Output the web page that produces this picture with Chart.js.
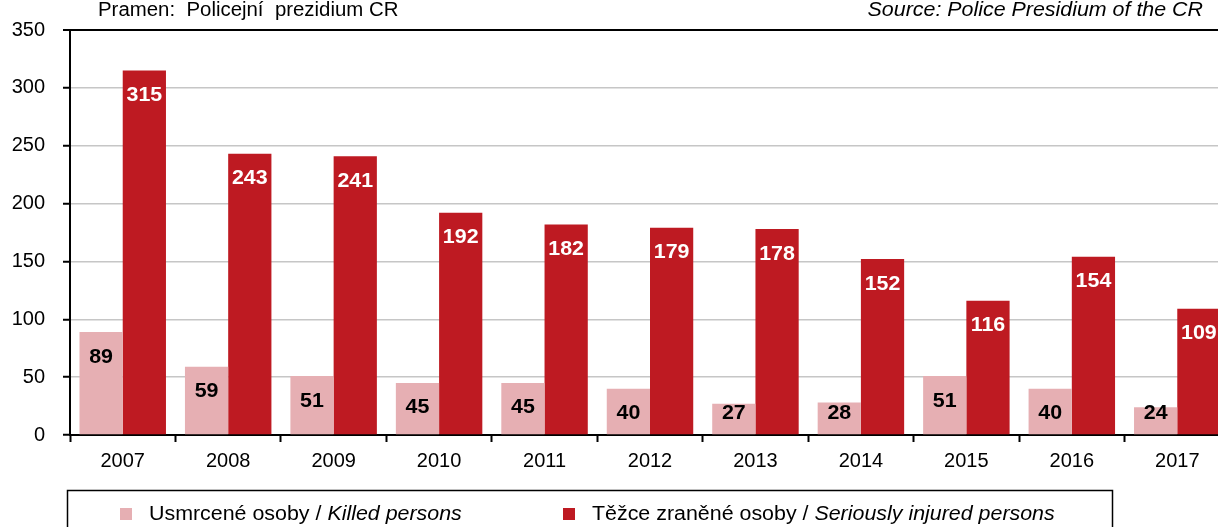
<!DOCTYPE html>
<html>
<head>
<meta charset="utf-8">
<script src="https://cdn.jsdelivr.net/npm/chart.js@4.4.1/dist/chart.umd.min.js"></script>
<style>
  html, body { margin: 0; padding: 0; background: #fff; overflow: hidden; }
  #wrap { position: relative; width: 1230px; height: 527px; }
</style>
</head>
<body>
<div id="wrap"><canvas id="chart"></canvas></div>
<script>
const years = ['2007', '2008', '2009', '2010', '2011', '2012', '2013', '2014', '2015', '2016', '2017'];
const killed = [89, 59, 51, 45, 45, 40, 27, 28, 51, 40, 24];
const injured = [315, 243, 241, 192, 182, 179, 178, 152, 116, 154, 109];
const killedLabel = ['Usmrcené osoby / ', 'Killed persons'];
const injuredLabel = ['Těžce zraněné osoby / ', 'Seriously injured persons'];
const sourceCz = 'Pramen:  Policejní  prezidium CR';
const sourceEn = 'Source: Police Presidium of the CR';

const FONT = '"Liberation Sans", Arial, sans-serif';
const LIGHT = '#e6afb3';
const DARK = '#be1a22';

// draw text stretched horizontally by `widen`; returns drawn width
function wideText(ctx, text, x, y, align, widen = 1.07) {
  const w = ctx.measureText(text).width * widen;
  let left = x;
  if (align === 'center') left = x - w / 2;
  else if (align === 'right') left = x - w;
  ctx.save();
  ctx.textAlign = 'left';
  ctx.translate(left, y);
  ctx.scale(widen, 1);
  ctx.fillText(text, 0, 0);
  ctx.restore();
  return w;
}

// value labels inside the top of each bar, kept above the axis for short bars
const barLabels = {
  id: 'barLabels',
  afterDatasetsDraw(chart) {
    const ctx = chart.ctx;
    const base = chart.scales.y.getPixelForValue(0);
    ctx.save();
    ctx.font = 'bold 20px ' + FONT;
    ctx.textBaseline = 'middle';
    chart.data.datasets.forEach((ds, i) => {
      chart.getDatasetMeta(i).data.forEach((bar, j) => {
        const y = Math.min(bar.y + 25, base - 22);
        ctx.fillStyle = i === 0 ? '#000' : '#fff';
        wideText(ctx, String(ds.data[j]), bar.x, y, 'center');
      });
    });
    ctx.restore();
  }
};

// source lines above the plot and the boxed legend below it
const frame = {
  id: 'frame',
  afterDraw(chart) {
    const ctx = chart.ctx;
    ctx.save();
    ctx.fillStyle = '#000';
    ctx.textBaseline = 'alphabetic';
    ctx.font = '20px ' + FONT;
    wideText(ctx, sourceCz, 98, 16, 'left', 1.02);
    ctx.font = 'italic 20px ' + FONT;
    wideText(ctx, sourceEn, 1203, 16, 'right');

    ctx.strokeStyle = '#000';
    ctx.lineWidth = 1.5;
    ctx.strokeRect(67.5, 490.5, 1045, 60);

    const items = [
      { x: 120, color: chart.data.datasets[0].backgroundColor, parts: killedLabel },
      { x: 563, color: chart.data.datasets[1].backgroundColor, parts: injuredLabel }
    ];
    items.forEach(it => {
      ctx.fillStyle = it.color;
      ctx.fillRect(it.x, 508, 12, 12);
      ctx.fillStyle = '#000';
      let x = it.x + 29;
      ctx.font = '20px ' + FONT;
      x += wideText(ctx, it.parts[0], x, 520, 'left');
      ctx.font = 'italic 20px ' + FONT;
      wideText(ctx, it.parts[1], x, 520, 'left');
    });
    ctx.restore();
  }
};

new Chart(document.getElementById('chart'), {
  type: 'bar',
  data: {
    labels: years,
    datasets: [
      { label: killedLabel.join(''), data: killed, backgroundColor: LIGHT },
      { label: injuredLabel.join(''), data: injured, backgroundColor: DARK }
    ]
  },
  options: {
    responsive: true,
    maintainAspectRatio: false,
    animation: false,
    layout: { padding: { top: 26, right: 0, bottom: 0, left: 0 } },
    datasets: { bar: { categoryPercentage: 0.82, barPercentage: 1.0 } },
    plugins: { legend: { display: false }, tooltip: { enabled: false } },
    scales: {
      x: {
        afterFit: s => { s.height = 92; },
        grid: { offset: true, drawOnChartArea: false, tickLength: 7, tickColor: '#000', tickWidth: 2 },
        border: { color: '#000', width: 2 },
        ticks: { color: '#000', font: { family: FONT, size: 20 }, padding: 7, maxRotation: 0 }
      },
      y: {
        min: 0,
        max: 350,
        afterFit: s => { s.width = 70; },
        grid: {
          color: c => c.tick && c.tick.value === 350 ? '#000' : '#c6c6c6',
          lineWidth: c => c.tick && c.tick.value === 350 ? 2 : 1.5,
          tickLength: 7,
          tickColor: '#000',
          tickWidth: 2
        },
        border: { color: '#000', width: 2 },
        ticks: { stepSize: 50, color: '#000', font: { family: FONT, size: 20 }, padding: 18 }
      }
    }
  },
  plugins: [barLabels, frame]
});
</script>
</body>
</html>
